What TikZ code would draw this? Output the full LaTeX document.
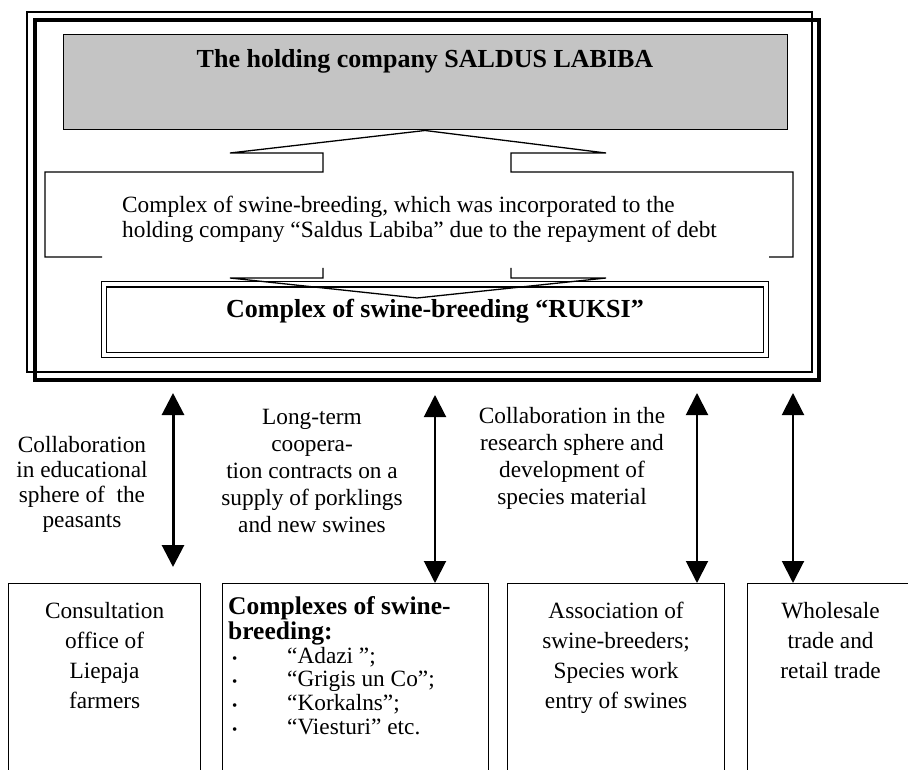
\documentclass[tikz,border=0pt]{standalone}
\usepackage{fontspec}
\setmainfont{Liberation Serif}
\usetikzlibrary{positioning,arrows.meta}

\begin{document}
\begin{tikzpicture}[
    x=1pt, y=-1pt,
    node distance=20pt,
    txt/.style={font=\fontsize{23.3}{#1}\selectfont, align=center, inner sep=0pt},
    txt/.default=25,
    bold/.style={font=\fontsize{26}{28}\selectfont\bfseries, inner sep=0pt},
    lowbox/.style={draw, line width=1.2pt, anchor=north west, minimum height=220pt, inner sep=0pt},
    arrow/.style={{Triangle[width=22pt,length=22pt]}-{Triangle[width=22pt,length=22pt]}, line width=2pt}
  ]
    \useasboundingbox (0,0) rectangle (908,770);
    \clip (0,0) rectangle (908,770);

    % Holding frame
    \node[draw, line width=4pt, minimum width=784pt, minimum height=360pt] (saldus) at (427,200) {};
    \draw[line width=1.3pt] (27,12) rectangle (812,372);
    \node[draw, line width=1pt, fill=black!23, minimum width=724pt, minimum height=95pt,
          bold, text height=15pt, text depth=44pt] (holding) at (425,82.5)
      {The holding company SALDUS LABIBA};

    % Callout between holding and complex
    \node[draw, line width=1.3pt, double, double distance=4pt, minimum width=662pt, minimum height=70.5pt,
          bold, text height=15pt, text depth=19pt] (ruksi) at (435,319.75)
      {Complex of swine-breeding “RUKSI”};
    \draw[line width=1.3pt] (102,257) -- (45,257) -- (45,172) -- (323,172) -- (323,153) -- (230,153)
      -- (holding.south) -- (606,153) -- (511,153) -- (511,172) -- (793,172) -- (793,257) -- (769,257);
    \draw[line width=1.3pt] (323,268) -- (323,278) -- (230,278) -- (417,298) -- (606,278) -- (511,278) -- (511,268);
    \node[txt, align=left, anchor=north west] (debt) at (122,196)
      {Complex of swine-breeding, which was incorporated to the\\
       holding company “Saldus Labiba” due to the repayment of debt};

    % Partners
    \node[lowbox, minimum width=192pt] (consult) at (8,583) {};
    \node[lowbox, minimum width=266pt] (complexes) at (222,583) {};
    \node[lowbox, minimum width=217pt] (assoc) at (507,583) {};
    \node[lowbox, minimum width=166pt] (trade) at (747,583) {};

    \node[txt=30, below=19pt of consult.north] (consultTxt)
      {Consultation\\office of\\Liepaja\\farmers};
    \node[txt=23.6, align=left, below right=13pt and 6pt of complexes.north west] (complexTxt)
      {{\fontsize{25.5}{23.6}\selectfont\bfseries Complexes of swine-}\\[2pt]
       {\fontsize{25.5}{23.6}\selectfont\bfseries breeding:}\\
       \makebox[59pt][l]{\hspace{4pt}{\fontsize{15}{15}\selectfont\textbullet}}“Adazi ”;\\
       \makebox[59pt][l]{\hspace{4pt}{\fontsize{15}{15}\selectfont\textbullet}}“Grigis un Co”;\\
       \makebox[59pt][l]{\hspace{4pt}{\fontsize{15}{15}\selectfont\textbullet}}“Korkalns”;\\
       \makebox[59pt][l]{\hspace{4pt}{\fontsize{15}{15}\selectfont\textbullet}}“Viesturi” etc.};
    \node[txt=30, below=19pt of assoc.north] (assocTxt)
      {Association of\\swine-breeders;\\Species work\\entry of swines};
    \node[txt=30, below=19pt of trade.north] (tradeTxt)
      {Wholesale\\trade and\\retail trade};

    % Links
    \coordinate (up1) at (173,393);
    \coordinate (up2) at (435,395);
    \coordinate (up3) at (697,393);
    \coordinate (up4) at (793,393);
    \draw[arrow, line width=3pt, shorten >=16pt] (up1) -- (up1 |- consult.north);
    \draw[arrow] (up2) -- (up2 |- complexes.north);
    \draw[arrow] (up3) -- (up3 |- assoc.north);
    \draw[arrow] (up4) -- (up4 |- trade.north);

    \node[txt, anchor=north] (eduLbl) at (82,436)
      {Collaboration\\in educational\\sphere of~ the\\peasants};
    \node[txt=27, anchor=north] (supplyLbl) at (312,409)
      {Long-term\\coopera-\\tion contracts on a\\supply of porklings\\and new swines};
    \node[txt=27, anchor=north] (researchLbl) at (572,407)
      {Collaboration in the\\research sphere and\\development of\\species material};
  \end{tikzpicture}
\end{document}
